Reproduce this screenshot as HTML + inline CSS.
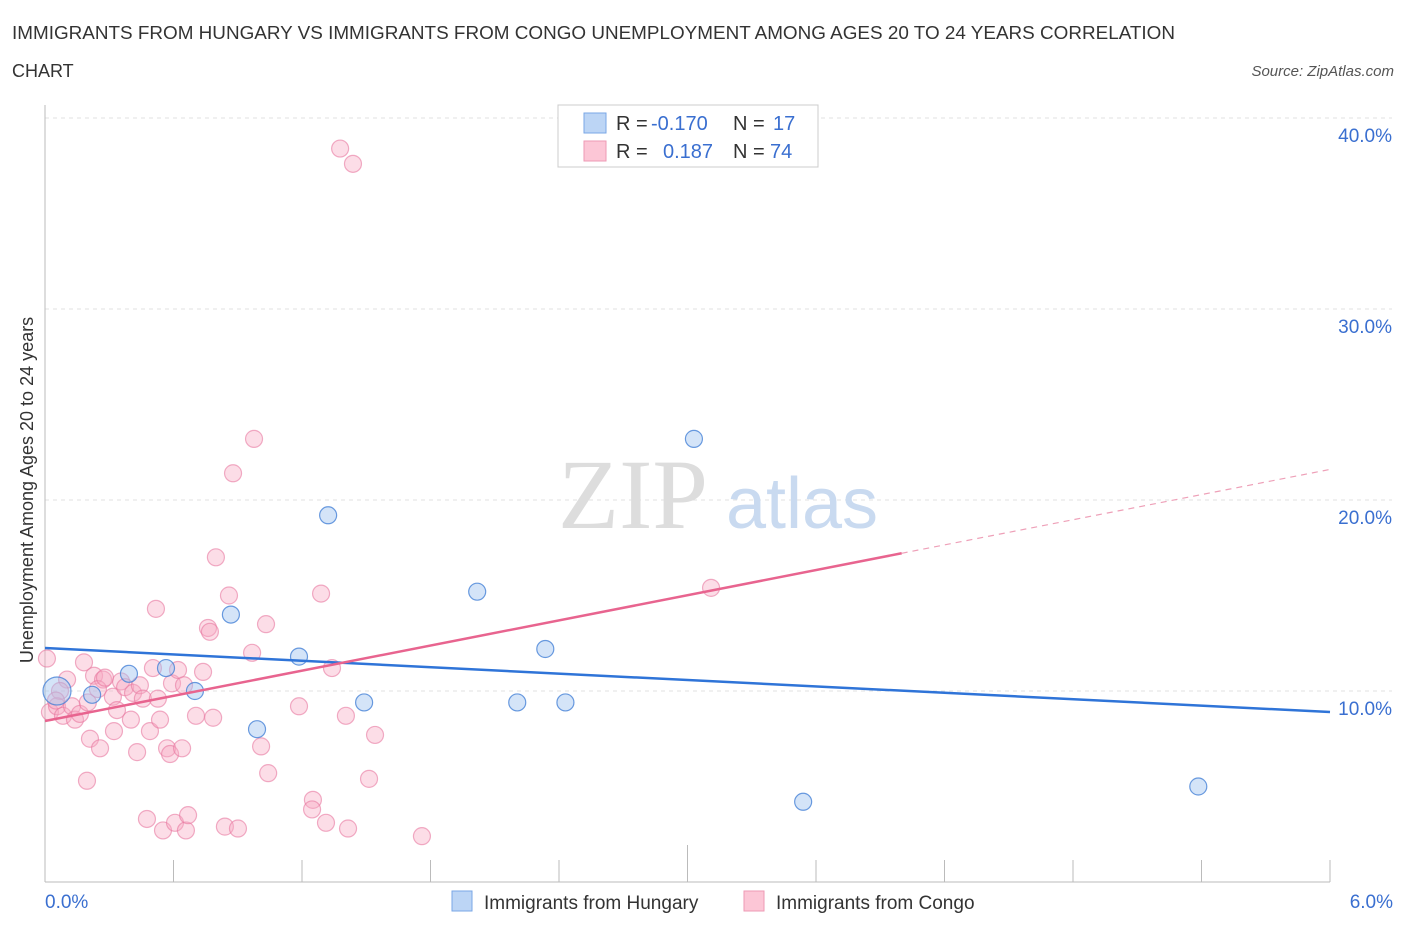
<!DOCTYPE html>
<html><head><meta charset="utf-8"><style>
body{margin:0;background:#fff;font-family:"Liberation Sans",sans-serif;}
svg{display:block}
</style></head><body>
<svg id="c" width="1406" height="930">
<text x="12" y="39" font-size="18" fill="#333" textLength="1163" lengthAdjust="spacingAndGlyphs">IMMIGRANTS FROM HUNGARY VS IMMIGRANTS FROM CONGO UNEMPLOYMENT AMONG AGES 20 TO 24 YEARS CORRELATION</text>
<text x="12" y="77" font-size="18" fill="#333">CHART</text>
<text x="1394" y="76" font-size="15" fill="#555" font-style="italic" text-anchor="end">Source: ZipAtlas.com</text>
<text x="-490" y="33" font-size="18" fill="#333" text-anchor="middle" transform="rotate(-90)">Unemployment Among Ages 20 to 24 years</text>
<g id="grid"></g>
<text x="633" y="528" font-size="100" fill="#ddd" font-family="Liberation Serif,serif" text-anchor="middle">ZIP</text>
<text x="802" y="528" font-size="72" fill="#c9daf0" text-anchor="middle">atlas</text>
<g id="pts"></g>
<g id="lines"></g>
<g>
<rect x="558" y="105" width="260" height="62" fill="#fff" stroke="#ccc"/>
<rect x="584" y="113" width="22" height="20" fill="#bcd5f5" stroke="#7aa7e6"/>
<rect x="584" y="141" width="22" height="20" fill="#fcc6d6" stroke="#ee9ab4"/>
<text x="616" y="130" font-size="20" fill="#333">R = </text><text x="651" y="130" font-size="20" fill="#3a6fd0">-0.170</text>
<text x="733" y="130" font-size="20" fill="#333">N = </text><text x="773" y="130" font-size="20" fill="#3a6fd0">17</text>
<text x="616" y="158" font-size="20" fill="#333">R = </text><text x="663" y="158" font-size="20" fill="#3a6fd0">0.187</text>
<text x="733" y="158" font-size="20" fill="#333">N = </text><text x="770" y="158" font-size="20" fill="#3a6fd0">74</text>
</g>
<g>
<rect x="452" y="891" width="20" height="20" fill="#bcd5f5" stroke="#7aa7e6"/>
<text x="484" y="909" font-size="19" fill="#333">Immigrants from Hungary</text>
<rect x="744" y="891" width="20" height="20" fill="#fcc6d6" stroke="#ee9ab4"/>
<text x="776" y="909" font-size="19" fill="#333">Immigrants from Congo</text>
</g>
</svg>
<script>
const yTicks=[10,20,30,40];
const xTickLabels=["0.0%","6.0%"];
const hungaryX=[0.056,0.22,0.392,0.565,0.7,0.868,0.99,1.186,1.322,1.49,2.018,2.205,2.336,2.43,3.03,3.54,5.385];
const hungaryY=[10.0,9.8,10.9,11.2,10.0,14.0,8.0,11.8,19.2,9.4,15.2,9.4,12.2,9.4,23.2,4.2,5.0];
const congoX=[1.378,1.438,0.976,0.878,0.798,0.518,0.859,1.289,1.032,0.761,0.77,0.967,1.34,3.11,0.009,0.182,0.229,0.271,0.103,0.07,0.023,0.056,0.084,0.126,0.14,0.163,0.2,0.247,0.28,0.317,0.336,0.355,0.374,0.411,0.401,0.443,0.457,0.49,0.504,0.527,0.537,0.593,0.621,0.649,0.738,0.705,0.785,0.21,0.257,0.322,0.43,0.57,0.584,0.64,1.009,1.042,1.186,1.405,1.541,0.196,0.476,0.551,0.607,0.658,0.668,0.84,0.901,1.251,1.247,1.312,1.415,1.513,1.76,0.051];
const congoY=[38.4,37.6,23.2,21.4,17.0,14.3,15.0,15.1,13.5,13.3,13.1,12.0,11.2,15.4,11.7,11.5,10.8,10.6,10.6,10.0,8.9,9.2,8.7,9.2,8.5,8.8,9.4,10.1,10.7,9.7,9.0,10.5,10.2,9.9,8.5,10.3,9.6,7.9,11.2,9.6,8.5,10.4,11.1,10.3,11.0,8.7,8.6,7.5,7.0,7.9,6.8,7.0,6.7,7.0,7.1,5.7,9.2,8.7,7.7,5.3,3.3,2.7,3.1,2.7,3.5,2.9,2.8,4.3,3.8,3.1,2.8,5.4,2.4,9.5];
const hungaryFit=[12.25,8.9];
const congoFit=[8.43,21.6];
const congoSolidEnd=4.0;
const NS="http://www.w3.org/2000/svg";
const X=v=>45+v/6*1285, Y=v=>882-v*19.1;
function mk(t,a,p){const e=document.createElementNS(NS,t);for(const k in a)e.setAttribute(k,a[k]);p.appendChild(e);return e;}
const grid=document.getElementById('grid');
yTicks.forEach(t=>{
 const l=mk('line',{x1:45,x2:1392,y1:Y(t),y2:Y(t),stroke:'#e2e2e2','stroke-dasharray':'4,4'},grid);
 
 
 const tx=mk('text',{x:1392,y:Y(t)+24,'font-size':19,fill:'#3a6fd0','text-anchor':'end'},grid);
 tx.textContent=t.toFixed(1)+'%';
 
 
});
const ax=mk('line',{x1:45,x2:1330,y1:882,y2:882,stroke:'#bbb'},grid);


const ay=mk('line',{x1:45,x2:45,y1:105,y2:882,stroke:'#bbb'},grid);


for(let i=1;i<=10;i++){const x=45+i*128.5;const tk=mk('line',{x1:x,x2:x,y1:i==5?845:860,y2:882,stroke:'#bbb'},grid);
 
 }
xTickLabels.forEach((s,i)=>{const t=mk('text',{x:i?1393:45,y:908,'font-size':19,fill:'#3a6fd0','text-anchor':i?'end':'start'},grid);t.textContent=s;
 
 });
const pts=document.getElementById('pts');
congoX.forEach((x,i)=>{const c=mk('circle',{cx:X(x),cy:Y(congoY[i]),r:8.5,fill:'rgba(248,170,195,0.4)',stroke:'rgba(232,120,160,0.6)','stroke-width':1.2},pts);
 
 });
hungaryX.forEach((x,i)=>{const c=mk('circle',{cx:X(x),cy:Y(hungaryY[i]),r:i==0?14:8.5,fill:'rgba(160,195,240,0.45)',stroke:'rgba(70,130,215,0.8)','stroke-width':1.2},pts);
 
 });
const ln=document.getElementById('lines');
const b=mk('line',{x1:X(0),y1:Y(hungaryFit[0]),x2:X(6),y2:Y(hungaryFit[1]),stroke:'#2f74d8','stroke-width':2.5},ln);


const cy=x=>congoFit[0]+(congoFit[1]-congoFit[0])*x/6;
const p1=mk('line',{x1:X(0),y1:Y(cy(0)),x2:X(congoSolidEnd),y2:Y(cy(congoSolidEnd)),stroke:'#e8648f','stroke-width':2.5},ln);


const p2=mk('line',{x1:X(congoSolidEnd),y1:Y(cy(congoSolidEnd)),x2:X(6),y2:Y(cy(6)),stroke:'#eea0b8','stroke-width':1.2,'stroke-dasharray':'6,5'},ln);


</script>
</body></html>
